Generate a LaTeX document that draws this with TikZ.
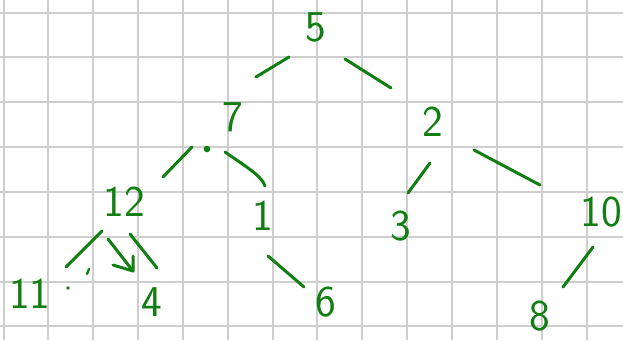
\documentclass[tikz,border=0pt]{standalone}
\definecolor{ink}{RGB}{16,126,16}
\definecolor{gridgray}{RGB}{206,206,206}
\tikzset{
  gridline/.style={draw=gridgray, line width=2pt},
  stroke/.style={draw=ink, line width=3pt, line cap=round, line join=round},
  num/.style={text=ink, font=\sffamily\fontsize{44}{44}\selectfont, inner sep=0pt},
  blob/.style={fill=ink, draw=none}
}
\begin{document}
\begin{tikzpicture}[x=1pt,y=-1pt]
\useasboundingbox (0,0) rectangle (623,340);
\clip (0,0) rectangle (623,340);
\fill[white] (0,0) rectangle (623,340);
% grid paper
\foreach \i in {0,...,13} \draw[gridline] ({3.5+44.85*\i},0) -- ++(0,340);
\foreach \j in {0,...,7} \draw[gridline] (0,{12.5+44.85*\j}) -- ++(623,0);
% numbers
\node[num] (n5)  at (316,27)  {5};
\node[num] (n7)  at (233,117) {7};
\node[num] (n2)  at (433,122) {2};
\node[num] (n12) at (124,202) {12};
\node[num] (n1)  at (263,216) {1};
\node[num] (n3)  at (401,226) {3};
\node[num] (n10) at (601,212) {10};
\node[num] (n11) at (30,294)  {11};
\node[num] (n4)  at (152,302) {4};
\node[num] (n6)  at (326,302) {6};
\node[num] (n8)  at (540,316) {8};
% edge end points
\coordinate (a5l) at (289,57);  \coordinate (b5l) at (256,77);
\coordinate (a5r) at (345,59);  \coordinate (b5r) at (391,88);
\coordinate (a7l) at (192,147); \coordinate (b7l) at (163,177);
\coordinate (a7r) at (225,152); \coordinate (b7r) at (265,186);
\coordinate (a2l) at (430,163); \coordinate (b2l) at (408,193);
\coordinate (a2r) at (474,150); \coordinate (b2r) at (540,185);
\coordinate (a12l) at (102,231); \coordinate (b12l) at (66,267);
\coordinate (a12r) at (130,234); \coordinate (b12r) at (157,268);
\coordinate (a1) at (268,256); \coordinate (b1) at (304,287);
\coordinate (a10) at (593,247); \coordinate (b10) at (563,287);
\coordinate (arS) at (108,239); \coordinate (arT) at (133,271);
\coordinate (arL) at (113,265); \coordinate (arR) at (133,256);
% edges
\draw[stroke] (a5l) -- (b5l);
\draw[stroke] (a5r) -- (b5r);
\draw[stroke] (a7l) -- (b7l);
\draw[stroke] (a7r) .. controls (245,166) and (262,176) .. (b7r);
\draw[stroke] (a2l) -- (b2l);
\draw[stroke] (a2r) -- (b2r);
\draw[stroke] (a12l) -- (b12l);
\draw[stroke] (a12r) -- (b12r);
\draw[stroke] (a1) -- (b1);
\draw[stroke] (a10) -- (b10);
% arrow inside 12
\draw[stroke] (arS) -- (arT);
\draw[stroke] (arL) -- (arT) -- (arR);
% dots and tick
\fill[blob] (207,149) circle (3.3);
\fill[blob] (68,288) circle (1.8);
\draw[stroke, line width=2.4pt] (89,269) -- (87,274);
\end{tikzpicture}
\end{document}
